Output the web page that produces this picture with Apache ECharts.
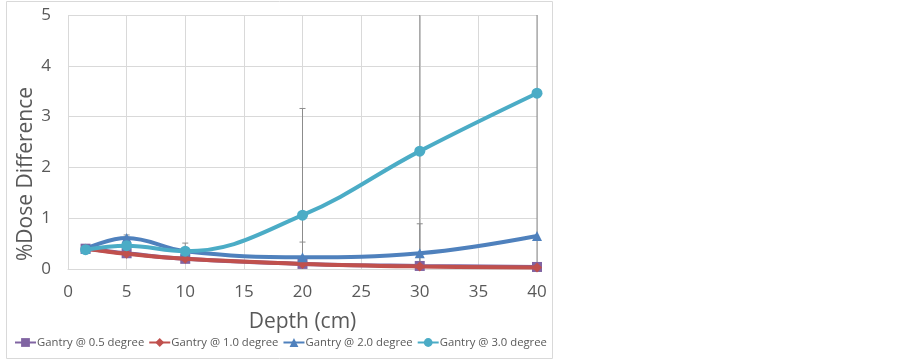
<!DOCTYPE html>
<html>
<head>
<meta charset="utf-8">
<script src="https://cdn.jsdelivr.net/npm/echarts@6/dist/echarts.min.js"></script>
<style>
  html, body { margin: 0; padding: 0; background: #fff; }
  #chart { width: 903px; height: 361px; }
</style>
</head>
<body>
<div id="chart"></div>
<script>
// depth values (cm)
const depths = [1.5, 5, 10, 20, 30, 40]
const seriesNames = ['Gantry @ 0.5 degree', 'Gantry @ 1.0 degree', 'Gantry @ 2.0 degree', 'Gantry @ 3.0 degree']
const gantry05 = [0.40, 0.31, 0.20, 0.10, 0.06, 0.04]
const gantry10 = [0.40, 0.30, 0.20, 0.10, 0.05, 0.03]
const gantry20 = [0.40, 0.61, 0.35, 0.23, 0.31, 0.65]
const gantry30 = [0.38, 0.46, 0.35, 1.06, 2.32, 3.46]
// error bar half-widths
const err20 = [0, 0.06, 0.04, 0.30, 0.58, 0]
const err30 = [0, 0.04, 0.16, 2.10, 3.00, 3.60]
const xTicks = [0, 5, 10, 15, 20, 25, 30, 35, 40]
const yTitle = '%Dose Difference'

const colors = ['#8064A2', '#C0504D', '#4F81BD', '#4BACC6']
const symbols = ['rect', 'diamond', 'triangle', 'circle']
const textColor = '#595959'
const font = '"Open Sans", sans-serif'

const chart = echarts.init(document.getElementById('chart'))

const toPairs = vals => vals.map((v, i) => [depths[i], v])

const errData = (vals, errs) =>
  vals.map((v, i) => [depths[i], v, errs[i]]).filter(d => d[2] > 0)

// 误差线
const renderErr = (params, api) => {
  const x = api.value(0)
  const y = api.value(1)
  const e = api.value(2)
  const hi = y + e
  const lo = y - e
  const top = api.coord([x, Math.min(hi, 5)])
  const bot = api.coord([x, Math.max(lo, 0)])
  const children = [{
    type: 'line',
    shape: { x1: top[0], y1: top[1], x2: bot[0], y2: bot[1] },
    style: { stroke: '#8c8c8c', lineWidth: 1 }
  }]
  if (hi <= 5) {
    children.push({
      type: 'line',
      shape: { x1: top[0] - 3, y1: top[1], x2: top[0] + 3, y2: top[1] },
      style: { stroke: '#8c8c8c', lineWidth: 1 }
    })
  }
  if (lo >= 0) {
    children.push({
      type: 'line',
      shape: { x1: bot[0] - 3, y1: bot[1], x2: bot[0] + 3, y2: bot[1] },
      style: { stroke: '#8c8c8c', lineWidth: 1 }
    })
  }
  return { type: 'group', children }
}

const lineValues = [gantry05, gantry10, gantry20, gantry30]

const option = {
  animation: false,
  color: colors,
  graphic: [
    {
      type: 'rect',
      shape: { x: 6.5, y: 1.5, width: 546, height: 357 },
      style: { fill: 'none', stroke: '#d9d9d9', lineWidth: 1 },
      silent: true
    },
    {
      type: 'text',
      x: 26,
      y: 174,
      rotation: Math.PI / 2,
      style: {
        text: yTitle,
        fill: textColor,
        fontSize: 21,
        fontFamily: font,
        align: 'center',
        verticalAlign: 'middle'
      },
      silent: true
    }
  ],
  grid: { left: 68, right: 366, top: 15, bottom: 92 },
  xAxis: {
    type: 'value',
    min: 0,
    max: 40,
    interval: 5,
    name: 'Depth (cm)',
    nameLocation: 'middle',
    nameGap: 43,
    nameTextStyle: { color: textColor, fontSize: 21, fontFamily: font },
    axisLine: { show: true, lineStyle: { color: '#d9d9d9' } },
    axisTick: { show: false },
    axisLabel: {
      color: textColor, fontSize: 17, fontFamily: font, margin: 15,
      formatter: v => (xTicks.includes(v) ? String(v) : '')
    },
    splitLine: { show: true, lineStyle: { color: '#d9d9d9' } }
  },
  yAxis: {
    type: 'value',
    min: 0,
    max: 5,
    interval: 1,
    axisLine: { show: false },
    axisTick: { show: false },
    axisLabel: { color: textColor, fontSize: 17, fontFamily: font, margin: 17 },
    splitLine: { lineStyle: { color: '#d9d9d9' } }
  },
  legend: {
    data: seriesNames,
    left: 9,
    top: 332,
    itemGap: 4,
    itemWidth: 21,
    itemHeight: 11,
    textStyle: { color: textColor, fontSize: 11.3, fontFamily: font, padding: [0, 0, 0, -4] }
  },
  series: [
    {
      type: 'custom',
      renderItem: renderErr,
      data: errData(gantry30, err30),
      encode: { x: 0, y: 1 },
      z: 1,
      silent: true
    },
    {
      type: 'custom',
      renderItem: renderErr,
      data: errData(gantry20, err20),
      encode: { x: 0, y: 1 },
      z: 1,
      silent: true
    },
    ...lineValues.map((vals, i) => ({
      name: seriesNames[i],
      type: 'line',
      data: toPairs(vals),
      smooth: 0.4,
      symbol: symbols[i],
      symbolSize: i === 3 ? 11 : 10,
      lineStyle: { width: 4, color: colors[i] },
      itemStyle: { color: colors[i] },
      z: 2 + i
    }))
  ]
}

chart.setOption(option)
</script>
</body>
</html>
